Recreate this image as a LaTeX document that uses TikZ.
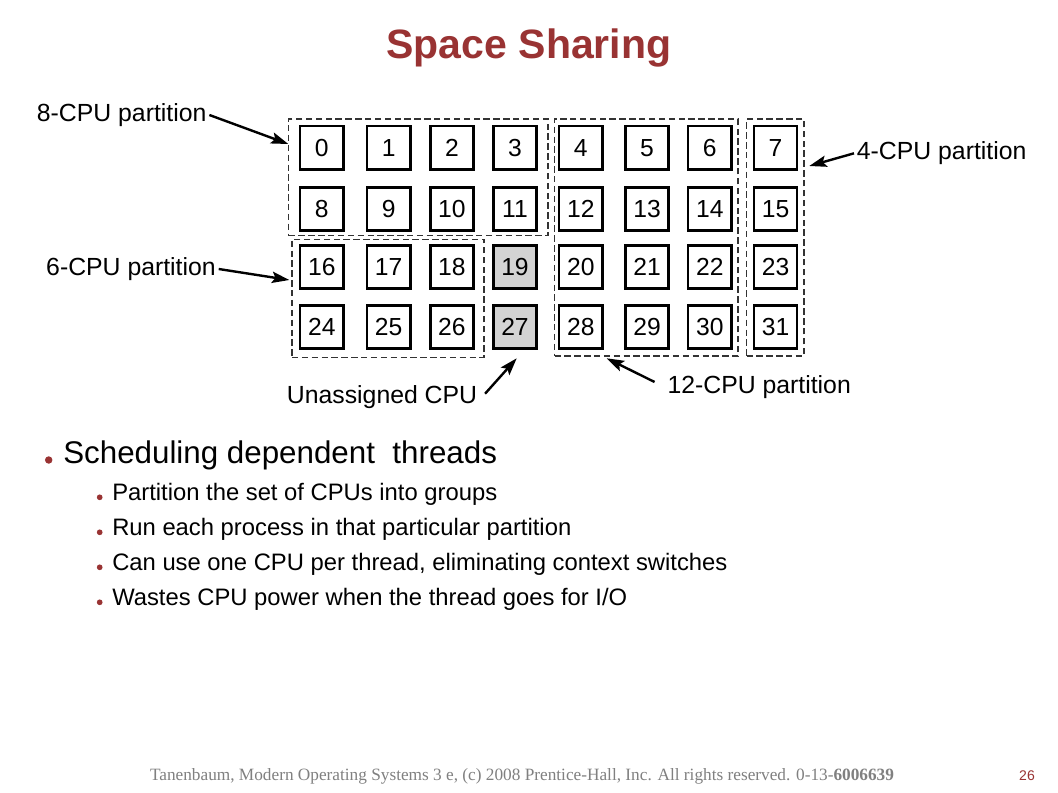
\documentclass[tikz,border=0pt]{standalone}
\usepackage{fontspec}
\setmainfont{Liberation Sans}
\newfontfamily\footserif{Liberation Serif}
\usetikzlibrary{arrows.meta,fit}
\definecolor{titlered}{RGB}{153,51,51}
\definecolor{cellgray}{RGB}{211,211,211}
\definecolor{footgray}{RGB}{128,128,128}
\begin{document}
\begin{tikzpicture}[x=0.75pt,y=-0.75pt,
  cpu/.style={draw=black,line width=1.9pt,minimum size=32.5pt,inner sep=0pt,font=\fontsize{18.5}{18.5}\selectfont},
  spare/.style={cpu,fill=cellgray},
  part/.style={draw=black!80,line width=0.9pt,dash pattern=on 4.8pt off 2.6pt,inner sep=0pt},
  lbl/.style={font=\fontsize{18.6}{18.6}\selectfont,inner sep=2pt},
  arr/.style={line width=1.8pt,-{Stealth[length=13pt,width=8.5pt,inset=2.5pt]}},
  bigtxt/.style={font=\fontsize{23.5}{23.5}\selectfont,inner sep=0pt,anchor=west},
  smalltxt/.style={font=\fontsize{17.85}{17.85}\selectfont,inner sep=0pt,anchor=west},
  dotbig/.style={circle,fill=titlered,inner sep=0pt,minimum size=5.6pt},
  dotsmall/.style={circle,fill=titlered,inner sep=0pt,minimum size=4.3pt}]
\useasboundingbox (0,0) rectangle (1058,793);
\fill[white] (0,0) rectangle (1058,793);
% title
\node[font=\bfseries\fontsize{30.75}{30.75}\selectfont,text=titlered] (title) at (529,48) {Space Sharing};
% cpu cells
\foreach \y [count=\r from 0] in {147.7,208.9,267,327}{
  \foreach \x [count=\c from 0] in {321.8,388.7,451.9,515,580.8,647,709.8,775.5}{
    \pgfmathtruncatemacro\n{\r*8+\c}
    \ifnum\c=3 \ifnum\r>1 \def\kind{spare}\else\def\kind{cpu}\fi\else\def\kind{cpu}\fi
    \node[\kind] (c\n) at (\x,\y) {\n};
  }
}
% partitions
\node[part,fit={(288.6,119) (547.9,235.7)}] (p8) {};
\node[part,fit={(292,239.3) (483.9,357.3)}] (p6) {};
\node[part,fit={(554.5,119) (738,356)}] (p12) {};
\node[part,fit={(746.6,119) (804,356)}] (p4) {};
% labels
\node[lbl,anchor=west] (l8) at (34,115) {8-CPU partition};
\node[lbl,anchor=west] (l6) at (43.3,269) {6-CPU partition};
\node[lbl,anchor=west] (l4) at (854,153.3) {4-CPU partition};
\node[lbl,anchor=west] (l12) at (664.6,387) {12-CPU partition};
\node[lbl,anchor=west] (lu) at (284,396.7) {Unassigned CPU};
% arrow tips
\coordinate (t8) at (288.3,144);
\coordinate (t6) at (289.3,280);
\coordinate (t4) at (809.3,166);
\coordinate (t12) at (606.7,358.3);
\coordinate (tu) at (516.7,358.3);
\draw[arr] (l8.east) -- (t8);
\draw[arr] (l6.east) -- (t6);
\draw[arr] (l4.west) -- (t4);
\draw[arr] ([shift={(-10,-5)}]l12.west) -- (t12);
\draw[arr] ([shift={(5,-3)}]lu.east) -- (tu);
% bullets
\node[dotbig] (d0) at (48.7,460) {};
\node[bigtxt] (b0) at (63,455) {Scheduling dependent\ \ threads};
\node[dotsmall] (d1) at (99.7,497.3) {};
\node[smalltxt] (b1) at (112,494) {Partition the set of CPUs into groups};
\node[dotsmall] (d2) at (99.7,532.3) {};
\node[smalltxt] (b2) at (112,529) {Run each process in that particular partition};
\node[dotsmall] (d3) at (99.7,567.3) {};
\node[smalltxt] (b3) at (112,564) {Can use one CPU per thread, eliminating context switches};
\node[dotsmall] (d4) at (99.7,602.3) {};
\node[smalltxt] (b4) at (112,599) {Wastes CPU power when the thread goes for I/O};
% footer
\node[font=\footserif\fontsize{12.95}{12.95}\selectfont,text=footgray] (foot) at (522,776) {Tanenbaum, Modern Operating Systems 3 e, (c) 2008 Prentice-Hall, Inc. All rights reserved. 0-13-\textbf{6006639}};
\node[font=\fontsize{10.5}{10.5}\selectfont,text=titlered] (page) at (1027,776) {26};
\end{tikzpicture}
\end{document}
